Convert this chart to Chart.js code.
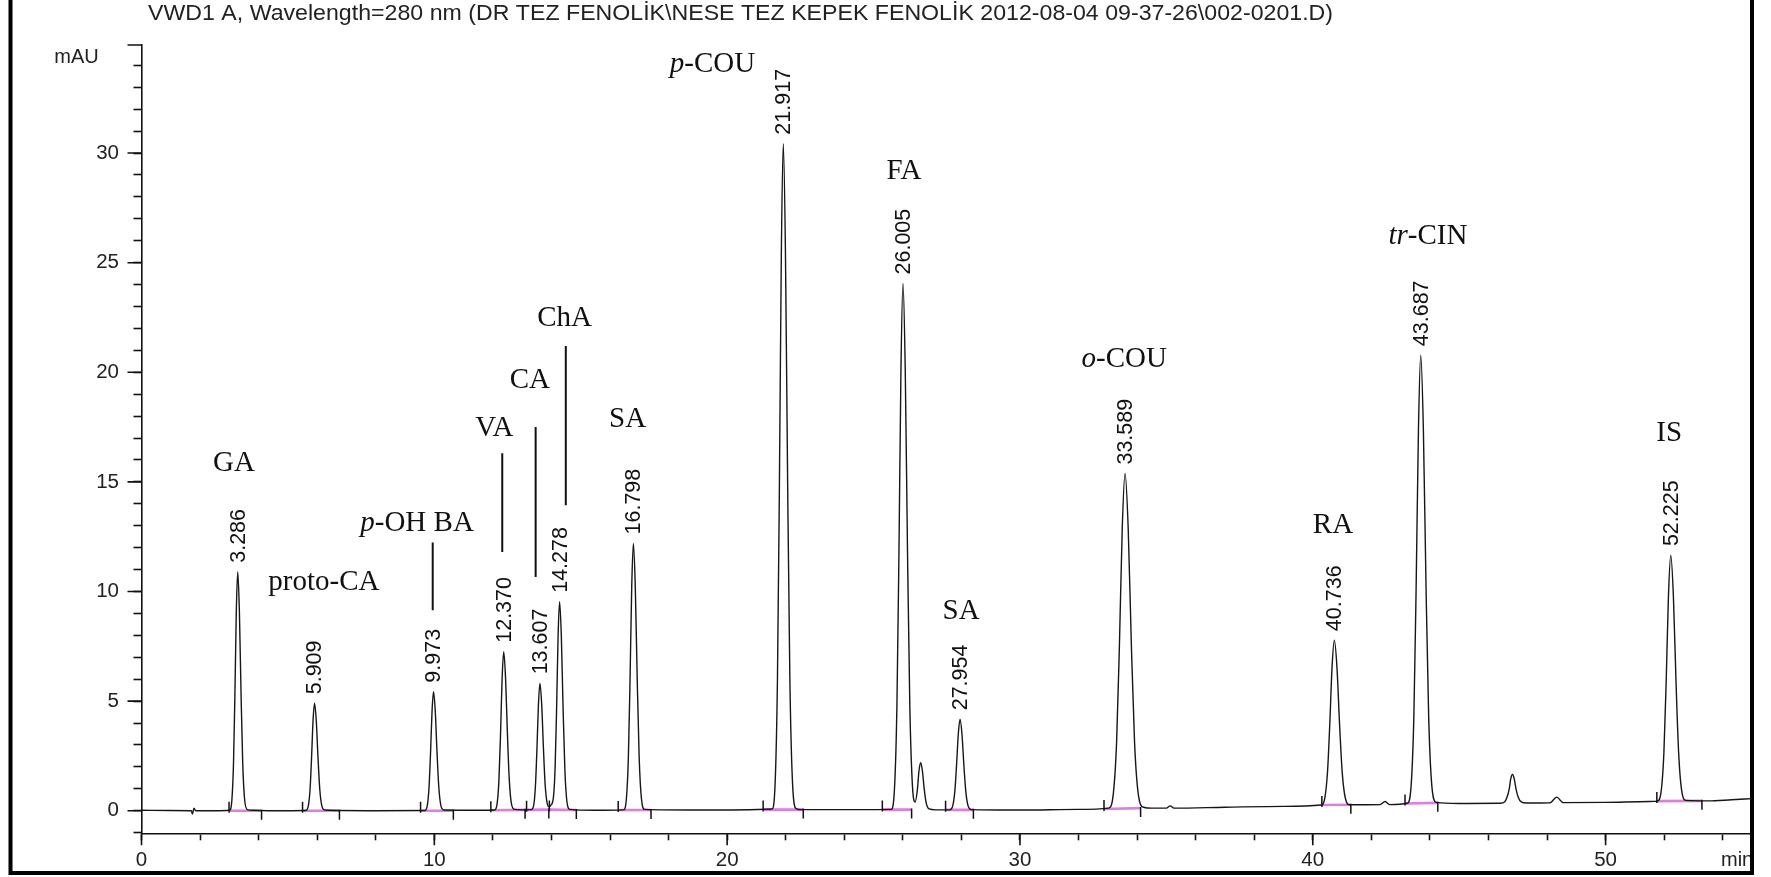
<!DOCTYPE html>
<html>
<head>
<meta charset="utf-8">
<title>VWD1 A, Wavelength=280 nm</title>
<script src="https://cdn.jsdelivr.net/npm/chart.js@4.4.1/dist/chart.umd.min.js"></script>
<style>
  html, body { margin: 0; padding: 0; background: #fff; }
  canvas { display: block; }
</style>
</head>
<body>
<canvas id="chrom" width="1771" height="877"></canvas>
<script>
// ---- Run header -------------------------------------------------------------
const titleText = 'VWD1 A, Wavelength=280 nm (DR TEZ FENOLİK\\NESE TEZ KEPEK FENOLİK 2012-08-04 09-37-26\\002-0201.D)';
const yUnit = 'mAU';
const xUnit = 'min';

// ---- Integrated peaks: retention time (min) and apex absorbance (mAU) -------
const retentionTimes = [3.286, 5.909, 9.973, 12.370, 13.607, 14.278, 16.798, 21.917, 26.005, 27.954, 33.589, 40.736, 43.687, 52.225];
const peakHeights    = [10.9,  4.9,   5.43,  7.25,   5.81,   9.53,   12.19,  30.43,  24.05,  4.17,   15.38,  7.78,   20.78,  11.66];

// ---- Compound names (text between asterisks is italic) ----------------------
const compounds = ['GA', 'proto-CA', '*p*-OH BA', 'VA', 'CA', 'ChA', 'SA', '*p*-COU', 'FA', 'SA', '*o*-COU', 'RA', '*tr*-CIN', 'IS'];

// ---- Detector signal between the apexes: [time (min), mAU] ------------------
const traceShape = [
  [0, 0.02], [1.0, 0.01], [1.70, 0.0], [1.74, -0.15], [1.79, 0.12], [1.85, 0.0], [2.5, 0.0],
  [3.006, 0.02], [3.086, 0.48], [3.142, 2.16], [3.19, 5.31], [3.238, 9.10],
  [3.343, 9.10], [3.40, 5.31], [3.457, 2.16], [3.524, 0.48], [3.619, 0.05], [3.8, 0.02],
  [4.5, 0.0],
  [5.611, 0.01], [5.697, 0.22], [5.756, 0.97], [5.807, 2.39], [5.858, 4.09],
  [5.969, 4.09], [6.029, 2.39], [6.089, 0.97], [6.159, 0.22], [6.259, 0.03],
  [8.0, 0.0],
  [9.675, 0.01], [9.761, 0.24], [9.82, 1.08], [9.871, 2.64], [9.922, 4.53],
  [10.033, 4.53], [10.093, 2.64], [10.153, 1.08], [10.223, 0.24], [10.323, 0.03],
  [11.5, 0.02],
  [12.055, 0.03], [12.145, 0.32], [12.208, 1.44], [12.262, 3.53], [12.316, 6.05],
  [12.433, 6.05], [12.496, 3.53], [12.559, 1.44], [12.633, 0.32], [12.738, 0.06], [13.0, 0.04],
  [13.31, 0.05], [13.395, 0.26], [13.454, 1.15], [13.505, 2.83], [13.556, 4.85],
  [13.667, 4.85], [13.727, 2.83], [13.787, 1.15], [13.857, 0.32], [13.92, 0.18],
  [13.98, 0.25], [14.066, 0.6], [14.125, 1.95], [14.176, 4.64], [14.227, 7.96],
  [14.338, 7.96], [14.398, 4.64], [14.458, 1.89], [14.528, 0.42], [14.628, 0.06],
  [15.5, 0.02],
  [16.465, 0.04], [16.56, 0.56], [16.627, 2.43], [16.684, 5.95], [16.741, 10.18],
  [16.864, 10.18], [16.93, 5.95], [16.996, 2.43], [17.073, 0.56], [17.183, 0.06],
  [19.0, 0.03],
  [21.532, 0.08], [21.642, 1.36], [21.719, 6.04], [21.785, 14.83], [21.851, 25.41],
  [21.992, 25.41], [22.067, 14.83], [22.142, 6.04], [22.23, 1.36], [22.355, 0.1], [22.55, 0.05],
  [24.5, 0.05],
  [25.602, 0.06], [25.717, 1.06], [25.798, 4.76], [25.867, 11.71], [25.936, 20.08],
  [26.083, 20.08], [26.161, 11.71], [26.239, 4.76], [26.33, 1.1], [26.42, 0.4],
  [26.5, 1.0], [26.55, 1.8], [26.61, 2.19], [26.67, 1.8], [26.73, 1.0], [26.8, 0.35], [26.9, 0.08], [27.1, 0.04],
  [27.604, 0.04], [27.704, 0.22], [27.774, 0.86], [27.834, 2.06], [27.894, 3.49],
  [28.02, 3.49], [28.086, 2.06], [28.152, 0.86], [28.229, 0.22], [28.339, 0.05],
  [30.0, 0.03], [32.0, 0.06],
  [33.029, 0.12], [33.189, 0.78], [33.301, 3.14], [33.397, 7.56], [33.493, 12.86],
  [33.697, 12.86], [33.805, 7.56], [33.913, 3.14], [34.039, 0.78], [34.219, 0.16], [34.5, 0.12],
  [35.0, 0.12], [35.13, 0.22], [35.26, 0.12],
  [37.0, 0.16], [39.0, 0.2],
  [40.281, 0.26], [40.411, 0.58], [40.502, 1.74], [40.58, 3.92], [40.658, 6.54],
  [40.826, 6.54], [40.916, 3.92], [41.006, 1.74], [41.111, 0.58], [41.261, 0.27],
  [42.3, 0.28], [42.47, 0.42], [42.62, 0.28],
  [43.232, 0.34], [43.362, 1.2], [43.453, 4.35], [43.531, 10.27], [43.609, 17.4],
  [43.777, 17.4], [43.867, 10.27], [43.957, 4.35], [44.062, 1.2], [44.212, 0.38],
  [45.0, 0.33], [46.4, 0.34],
  [46.55, 0.4], [46.63, 0.6], [46.71, 1.0], [46.76, 1.45], [46.82, 1.65], [46.88, 1.45], [46.94, 1.0], [47.02, 0.6], [47.12, 0.4], [47.3, 0.35],
  [48.1, 0.36], [48.33, 0.62], [48.55, 0.37],
  [50.0, 0.38], [51.5, 0.42],
  [51.77, 0.44], [51.9, 0.91], [51.991, 2.64], [52.069, 5.89], [52.147, 9.8],
  [52.315, 9.8], [52.405, 5.89], [52.495, 2.64], [52.6, 0.91], [52.75, 0.47],
  [53.5, 0.45], [54.3, 0.5], [55, 0.55]
];

// ---- Integration baselines: [start min, start mAU, end min, end mAU] --------
const integrations = [
  [2.99, 0.0, 4.10, 0.0],
  [5.50, 0.0, 6.76, 0.0],
  [9.53, 0.0, 10.65, 0.0],
  [11.93, 0.02, 13.10, 0.04],
  [13.15, 0.04, 13.91, 0.05],
  [13.93, 0.05, 14.85, 0.03],
  [16.28, 0.03, 17.40, 0.03],
  [21.23, 0.05, 22.60, 0.05],
  [25.30, 0.05, 26.30, 0.05],
  [27.46, 0.04, 28.41, 0.04],
  [32.87, 0.08, 34.12, 0.12],
  [40.31, 0.26, 41.30, 0.27],
  [43.15, 0.33, 44.27, 0.36],
  [51.75, 0.44, 53.29, 0.45]
];

// ---- Axis ticks -------------------------------------------------------------
const xTickValues = [0, 2, 4, 6, 8, 10, 12, 14, 16, 18, 20, 22, 24, 26, 28, 30, 32, 34, 36, 38, 40, 42, 44, 46, 48, 50, 52, 54];
const xTickLabels = [0, 10, 20, 30, 40, 50];
const yTickValues = [-1, 0, 1, 2, 3, 4, 5, 6, 7, 8, 9, 10, 11, 12, 13, 14, 15, 16, 17, 18, 19, 20, 21, 22, 23, 24, 25, 26, 27, 28, 29, 30, 31, 32, 33, 34];
const yTickLabels = [0, 5, 10, 15, 20, 25, 30];

// ---- Annotation layout, in data units (min, mAU) ----------------------------
const nameAnchors = [
  [3.16, 15.85], [6.23, 10.43], [9.41, 13.12], [12.05, 17.45], [13.26, 19.65], [14.45, 22.45],
  [16.6, 17.85], [19.5, 34.05], [26.04, 29.15], [27.99, 9.08], [33.56, 20.6], [40.69, 13.0],
  [43.93, 26.2], [52.17, 17.2]
];
// leader lines: [min, top mAU, bottom mAU]
const leaderLines = [
  [9.945, 12.23, 9.15],
  [12.32, 16.31, 11.8],
  [13.46, 17.5, 10.66],
  [14.49, 21.2, 13.94]
];

const SANS = '"Liberation Sans", Arial, Helvetica, sans-serif';
const SERIF = '"Liberation Serif", "Times New Roman", serif';

const traceData = traceShape
  .concat(retentionTimes.map((t, i) => [t, peakHeights[i]]))
  .sort((a, b) => a[0] - b[0])
  .map(([t, v]) => ({ x: t, y: v }));

const baselineData = [];
integrations.forEach(([t0, b0, t1, b1]) => {
  baselineData.push({ x: t0, y: b0 }, { x: t1, y: b1 }, { x: t1 + 0.005, y: null });
});

const decorations = {
  id: 'decorations',
  beforeDraw(chart) {
    const ctx = chart.ctx;
    ctx.save();
    ctx.fillStyle = '#ffffff';
    ctx.fillRect(0, 0, chart.width, chart.height);
    ctx.restore();
  },
  afterDraw(chart) {
    const { ctx, chartArea: area } = chart;
    const xs = chart.scales.x, ys = chart.scales.y;
    ctx.save();

    // longer ticks at the labelled values and the top end of the y axis
    ctx.strokeStyle = '#111';
    ctx.lineWidth = 1.6;
    ctx.beginPath();
    xTickLabels.forEach(v => {
      const px = xs.getPixelForValue(v);
      ctx.moveTo(px, area.bottom);
      ctx.lineTo(px, area.bottom + 12);
    });
    yTickLabels.forEach(v => {
      const py = ys.getPixelForValue(v);
      ctx.moveTo(area.left, py);
      ctx.lineTo(area.left - 14, py);
    });
    ctx.moveTo(area.left, area.top);
    ctx.lineTo(area.left - 14, area.top);
    ctx.stroke();

    // integration start / end markers
    ctx.lineWidth = 1.5;
    ctx.beginPath();
    integrations.forEach(([t0, b0, t1, b1]) => {
      const x0 = xs.getPixelForValue(t0), y0 = ys.getPixelForValue(b0);
      ctx.moveTo(x0, y0 + 2);
      ctx.lineTo(x0, y0 - 9);
      const x1 = xs.getPixelForValue(t1), y1 = ys.getPixelForValue(b1);
      ctx.moveTo(x1, y1 - 1);
      ctx.lineTo(x1, y1 + 9);
    });
    ctx.stroke();

    // retention time labels above each apex
    ctx.fillStyle = '#111';
    ctx.font = '21.5px ' + SANS;
    ctx.textAlign = 'left';
    ctx.textBaseline = 'middle';
    retentionTimes.forEach((t, i) => {
      const px = xs.getPixelForValue(t);
      const py = ys.getPixelForValue(peakHeights[i]) - 9;
      ctx.save();
      ctx.translate(px + 1, py);
      ctx.rotate(-Math.PI / 2);
      ctx.fillText(t.toFixed(3), 0, 0);
      ctx.restore();
    });

    // compound names
    ctx.fillStyle = '#111';
    compounds.forEach((name, i) => {
      const [t, v] = nameAnchors[i];
      const cx = xs.getPixelForValue(t), cy = ys.getPixelForValue(v);
      const parts = name.split('*');
      const fonts = parts.map((p, k) => (k % 2 ? 'italic ' : '') + '29px ' + SERIF);
      const widths = parts.map((p, k) => { ctx.font = fonts[k]; return ctx.measureText(p).width; });
      let px = cx - widths.reduce((a, b) => a + b, 0) / 2;
      parts.forEach((p, k) => {
        ctx.font = fonts[k];
        ctx.fillText(p, px, cy);
        px += widths[k];
      });
    });

    // leader lines
    ctx.strokeStyle = '#111';
    ctx.lineWidth = 2;
    ctx.beginPath();
    leaderLines.forEach(([t, v0, v1]) => {
      const px = xs.getPixelForValue(t);
      ctx.moveTo(px, ys.getPixelForValue(v0));
      ctx.lineTo(px, ys.getPixelForValue(v1));
    });
    ctx.stroke();

    // axis units
    ctx.fillStyle = '#222';
    ctx.font = '20px ' + SANS;
    ctx.textAlign = 'center';
    ctx.fillText(yUnit, 76.5, 57.5);
    ctx.textAlign = 'left';
    ctx.fillText(xUnit, area.right - 31, 860);

    // run header
    ctx.textBaseline = 'alphabetic';
    const w = ctx.measureText(titleText).width;
    ctx.save();
    ctx.translate(148, 19.5);
    ctx.scale(1185 / w, 1.06);
    ctx.fillText(titleText, 0, 0);
    ctx.restore();

    // frame
    ctx.strokeStyle = '#000';
    ctx.lineWidth = 4;
    ctx.beginPath();
    ctx.moveTo(10.5, 0);
    ctx.lineTo(10.5, 873);
    ctx.lineTo(area.right, 873);
    ctx.lineTo(area.right, 0);
    ctx.stroke();

    ctx.restore();
  }
};

Chart.defaults.font.family = SANS;

new Chart(document.getElementById('chrom'), {
  type: 'line',
  data: {
    datasets: [
      {
        label: 'VWD1 A',
        data: traceData,
        borderColor: '#161616',
        borderWidth: 1.4,
        pointRadius: 0,
        cubicInterpolationMode: 'monotone',
        fill: false,
        order: 0
      },
      {
        label: 'baseline',
        data: baselineData,
        borderColor: 'rgba(222, 110, 222, 0.9)',
        borderWidth: 2.6,
        pointRadius: 0,
        spanGaps: false,
        tension: 0,
        fill: false,
        order: 1
      }
    ]
  },
  options: {
    responsive: false,
    animation: false,
    events: [],
    layout: { padding: { left: 10, right: 19, top: 45, bottom: 0 } },
    plugins: { legend: { display: false }, tooltip: { enabled: false }, title: { display: false } },
    scales: {
      x: {
        type: 'linear',
        min: 0,
        max: 55,
        bounds: 'data',
        afterBuildTicks: s => { s.ticks = xTickValues.map(v => ({ value: v })); },
        afterFit: s => { s.height = 43.7; },
        grid: { display: true, drawOnChartArea: false, drawTicks: true, tickLength: 7, tickColor: '#111', tickWidth: 1.6 },
        border: { display: true, color: '#111', width: 1.6 },
        ticks: {
          autoSkip: false, maxRotation: 0, minRotation: 0, padding: 7.5,
          color: '#222', font: { family: SANS, size: 20.5 },
          callback: v => (xTickLabels.includes(v) ? String(v) : '')
        }
      },
      y: {
        type: 'linear',
        min: -1.03,
        max: 34.93,
        bounds: 'data',
        afterBuildTicks: s => { s.ticks = yTickValues.map(v => ({ value: v })); },
        afterFit: s => { s.width = 131.5; },
        grid: { display: true, drawOnChartArea: false, drawTicks: true, tickLength: 8, tickColor: '#111', tickWidth: 1.6 },
        border: { display: true, color: '#111', width: 1.6 },
        ticks: {
          autoSkip: false, padding: 14.5,
          color: '#222', font: { family: SANS, size: 20.5 },
          callback: v => (yTickLabels.includes(v) ? String(v) : '')
        }
      }
    }
  },
  plugins: [decorations]
});
</script>
</body>
</html>
